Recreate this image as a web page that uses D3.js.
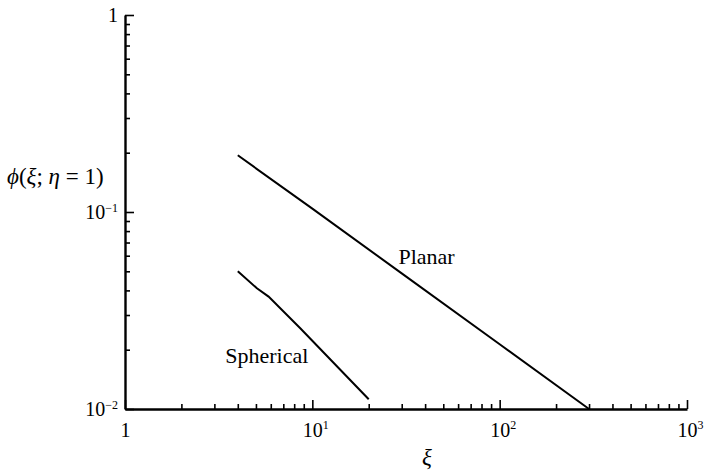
<!DOCTYPE html>
<html>
<head>
<meta charset="utf-8">
<script src="https://cdn.jsdelivr.net/npm/d3@7"></script>
<style>
  html, body { margin: 0; padding: 0; background: #fff; }
  svg { display: block; }
</style>
</head>
<body>
<svg id="chart" width="704" height="475"></svg>
<script>
// ---- data ----
const planarXi  = [4, 10, 30, 100, 300];
const planarPhi = [0.194, 0.104, 0.0488, 0.0213, 0.01];
const sphericalXi  = [4, 5.06, 5.84, 8.62, 20];
const sphericalPhi = [0.050, 0.041, 0.0372, 0.0257, 0.0112];
const xMajorTicks = [1, 10, 100, 1000];
const xMajorLabels = [["1", ""], ["10", "1"], ["10", "2"], ["10", "3"]];
const yMajorTicks = [0.01, 0.1, 1];
const yMajorLabels = [["10", "\u22122"], ["10", "\u22121"], ["1", ""]];
const curveLabels = [
  { text: "Planar", xi: 28.8, phi: 0.0545 },
  { text: "Spherical", xi: 3.43, phi: 0.0171 }
];
const xAxisTitle = "\u03BE";

// ---- layout ----
(function () {
const FONT = "Liberation Serif";
const svg = d3.select("#chart");
const mLeft = 125, mRight = 687, mTop = 15, mBottom = 409;
const x = d3.scaleLog().domain([1, 1000]).range([mLeft, mRight]);
const y = d3.scaleLog().domain([0.01, 1]).range([mBottom, mTop]);

const minorX = [];
for (let d = 1; d < 1000; d *= 10) for (let k = 2; k <= 9; k++) minorX.push(k * d);
const minorY = [];
for (let d = 0.01; d < 0.99; d *= 10) for (let k = 2; k <= 9; k++) minorY.push(k * d);

// minor ticks
svg.append("g").attr("transform", `translate(0,${mBottom})`)
  .call(d3.axisBottom(x).tickValues(minorX).tickSize(-5).tickSizeOuter(0).tickFormat(""))
  .call(g => g.select(".domain").remove());
svg.append("g").attr("transform", `translate(${mLeft},0)`)
  .call(d3.axisLeft(y).tickValues(minorY).tickSize(-5).tickSizeOuter(0).tickFormat(""))
  .call(g => g.select(".domain").remove());

// major axes
const gx = svg.append("g").attr("transform", `translate(0,${mBottom})`)
  .call(d3.axisBottom(x).tickValues(xMajorTicks).tickSize(-9).tickSizeOuter(0).tickPadding(14).tickFormat(""));
const gy = svg.append("g").attr("transform", `translate(${mLeft},0)`)
  .call(d3.axisLeft(y).tickValues(yMajorTicks).tickSize(-9).tickSizeOuter(0).tickPadding(7).tickFormat(""));

svg.selectAll("g").attr("font-family", FONT);
svg.selectAll(".tick line").attr("stroke", "#000").attr("stroke-width", 1.6);
svg.selectAll(".domain").attr("stroke", "#000").attr("stroke-width", 2.4);

// x tick labels: base centered on tick, superscript to the right
gx.selectAll(".tick").each(function(d, i) {
  const lab = xMajorLabels[i];
  d3.select(this).append("text")
    .attr("y", 28).attr("font-size", 20).attr("text-anchor", "middle")
    .attr("font-family", FONT).attr("fill", "#000")
    .text(lab[0]);
  if (lab[1]) {
    d3.select(this).append("text")
      .attr("x", 10).attr("y", 20).attr("font-size", 12).attr("text-anchor", "start")
      .attr("font-family", FONT).attr("fill", "#000")
      .text(lab[1]);
  }
});

// y tick labels
gy.selectAll(".tick").each(function(d, i) {
  const lab = yMajorLabels[i];
  const t = d3.select(this).append("text")
    .attr("x", -7).attr("y", 6).attr("font-size", 20).attr("text-anchor", "end")
    .attr("font-family", FONT).attr("fill", "#000");
  t.append("tspan").text(lab[0]);
  if (lab[1]) t.append("tspan").attr("font-size", 12).attr("dy", -7).text(lab[1]);
});

// curves
const line = d3.line().x(d => x(d[0])).y(d => y(d[1]));
svg.append("path").datum(d3.zip(planarXi, planarPhi))
  .attr("d", line).attr("fill", "none").attr("stroke", "#000").attr("stroke-width", 2);
svg.append("path").datum(d3.zip(sphericalXi, sphericalPhi))
  .attr("d", line).attr("fill", "none").attr("stroke", "#000").attr("stroke-width", 2);

// curve labels
svg.selectAll("text.curve").data(curveLabels).enter().append("text")
  .attr("class", "curve")
  .attr("x", d => x(d.xi)).attr("y", d => y(d.phi))
  .attr("font-size", 22).attr("font-family", FONT).attr("fill", "#000")
  .text(d => d.text);

// axis titles
svg.append("text").attr("x", 427).attr("y", 465).attr("font-size", 23)
  .attr("font-family", FONT).attr("fill", "#000")
  .attr("font-style", "italic").attr("text-anchor", "middle").text(xAxisTitle);

const yt = svg.append("text").attr("x", 7).attr("y", 184).attr("font-size", 23)
  .attr("font-family", FONT).attr("fill", "#000");
yt.append("tspan").attr("font-style", "italic").text("\u03D5");
yt.append("tspan").text("(");
yt.append("tspan").attr("font-style", "italic").text("\u03BE");
yt.append("tspan").text("; ");
yt.append("tspan").attr("font-style", "italic").text("\u03B7");
yt.append("tspan").text(" = 1)");
})();
</script>
</body>
</html>
